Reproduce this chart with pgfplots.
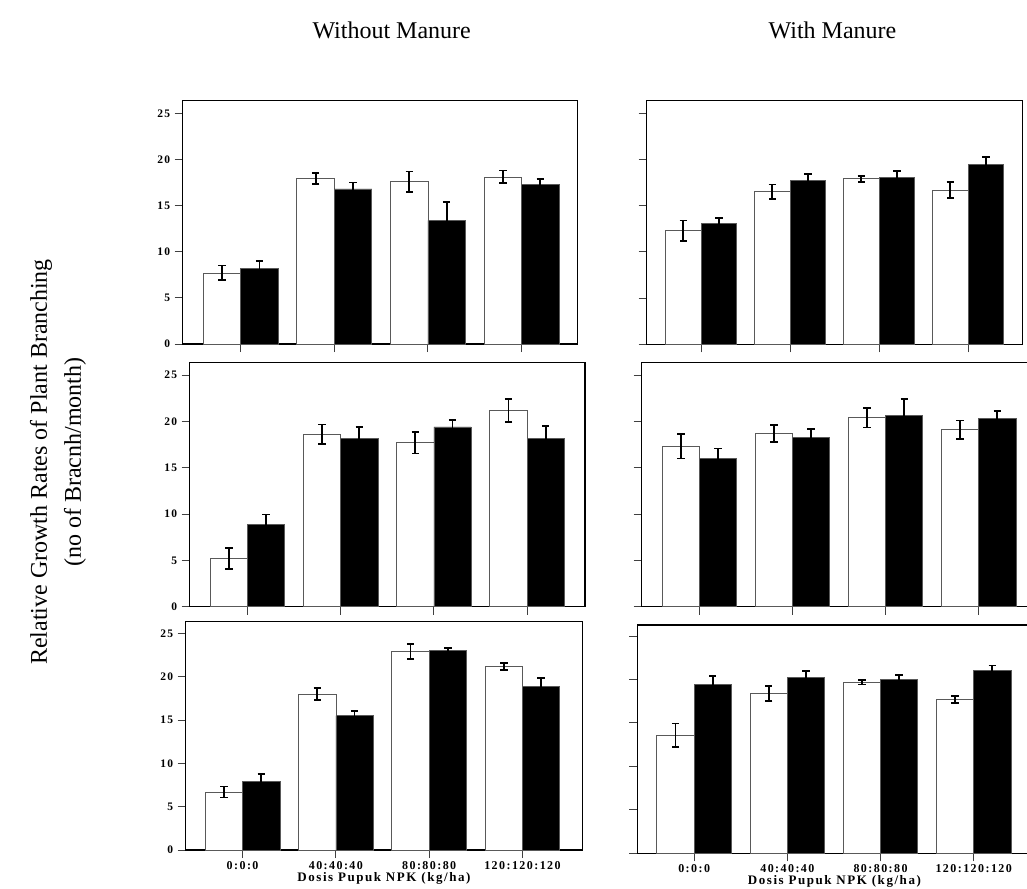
\documentclass[border=0pt]{standalone}
\usepackage{fontspec}
\setmainfont{Liberation Serif}
\newfontfamily\lsfont[LetterSpace=12]{Liberation Serif}
\usepackage{pgfplots}
\pgfplotsset{compat=1.18}
\pgfplotsset{
  panel/.style={
    scale only axis, anchor=north west,
    ybar=0pt, bar width=0.4, ymin=0,
    xtick={0,1,2,3}, ytick={0,5,10,15,20,25},
    tick align=outside, tick pos=left, major tick length=8pt,
    axis line style={black, line width=1.4pt},
    x axis line style={black!65, line width=1.1pt},
    tick style={black!75, line width=1pt},
    xticklabels={},
    /pgf/number format/assume math mode=true,
    tick label style={font=\fontsize{11.5}{13}\selectfont\lsfont\bfseries},
    yticklabel style={xshift=-1pt},
    clip=false,
  },
  wbar/.style={fill=white, draw=black!65, line width=0.8pt,
    error bars/.cd, y dir=both, y explicit,
    error bar style={black, line width=1.8pt},
    error mark options={rotate=90, mark size=3.7pt, line width=1.8pt, black}},
  bbar/.style={fill=black, draw=black!65, line width=0.8pt,
    error bars/.cd, y dir=both, y explicit,
    error bar style={black, line width=1.8pt},
    error mark options={rotate=90, mark size=3.7pt, line width=1.8pt, black}},
  bottomlab/.style={
    xticklabels={0:0:0,40:40:40,80:80:80,120:120:120},
    xlabel={Dosis Pupuk NPK (kg/ha)},
    xlabel style={font=\fontsize{13}{14}\selectfont\lsfont\bfseries, inner sep=0pt, yshift=1pt},
    xticklabel style={yshift=0pt, font=\fontsize{12}{13}\selectfont\lsfont\bfseries},
  },
}
\begin{document}
\begin{tikzpicture}
\path[use as bounding box] (0pt,0pt) rectangle (1027pt,-888pt);
\clip (0pt,0pt) rectangle (1027pt,-888pt);

\node[font=\fontsize{24}{28}\selectfont] at (391.7pt,-30pt) {Without Manure};
\node[font=\fontsize{24}{28}\selectfont] at (832.5pt,-30pt) {With Manure};
\node[font=\fontsize{24}{34}\selectfont, rotate=90, align=center] at (58pt,-462pt)
  {Relative Growth Rates of Plant Branching\\(no of Bracnh/month)};

% Top-left
\begin{axis}[panel, at={(182.7pt,-100.7pt)}, width=395pt, height=243.3pt,
  xmin=-0.62, xmax=3.6, ymax=26.36]
\addplot[wbar] coordinates {(0,7.7) +- (0,0.8) (1,17.9) +- (0,0.6) (2,17.6) +- (0,1.1) (3,18.1) +- (0,0.7)};
\addplot[bbar] coordinates {(0,8.2) +- (0,0.8) (1,16.8) +- (0,0.7) (2,13.4) +- (0,2.0) (3,17.3) +- (0,0.6)};
\end{axis}

% Top-right
\begin{axis}[panel, at={(646.7pt,-100.7pt)}, width=375.6pt, height=243.6pt,
  xmin=-0.61, xmax=3.61, ymax=26.36, yticklabels={}]
\addplot[wbar] coordinates {(0,12.3) +- (0,1.1) (1,16.5) +- (0,0.8) (2,17.9) +- (0,0.35) (3,16.7) +- (0,0.85)};
\addplot[bbar] coordinates {(0,13.1) +- (0,0.55) (1,17.7) +- (0,0.7) (2,18.1) +- (0,0.65) (3,19.5) +- (0,0.8)};
\end{axis}

% Middle-left
\begin{axis}[panel, at={(189.7pt,-362.3pt)}, width=395.2pt, height=244.4pt,
  xmin=-0.62, xmax=3.62, ymax=26.37]
\addplot[wbar] coordinates {(0,5.2) +- (0,1.1) (1,18.6) +- (0,1.06) (2,17.7) +- (0,1.17) (3,21.2) +- (0,1.24)};
\addplot[bbar] coordinates {(0,8.9) +- (0,1.04) (1,18.2) +- (0,1.2) (2,19.4) +- (0,0.72) (3,18.2) +- (0,1.3)};
\end{axis}

% Middle-right
\begin{axis}[panel, at={(641.7pt,-362.3pt)}, width=394.7pt, height=244.4pt,
  xmin=-0.62, xmax=3.62, ymax=26.37, yticklabels={}]
\addplot[wbar] coordinates {(0,17.3) +- (0,1.3) (1,18.7) +- (0,0.9) (2,20.4) +- (0,1.06) (3,19.1) +- (0,1.0)};
\addplot[bbar] coordinates {(0,16.0) +- (0,1.08) (1,18.3) +- (0,0.9) (2,20.6) +- (0,1.8) (3,20.3) +- (0,0.83)};
\end{axis}

% Bottom-left
\begin{axis}[panel, bottomlab, at={(185.7pt,-621.7pt)}, width=396.5pt, height=228.3pt,
  xmin=-0.61, xmax=3.64, ymax=26.35]
\addplot[wbar] coordinates {(0,6.7) +- (0,0.63) (1,18.0) +- (0,0.7) (2,22.9) +- (0,0.85) (3,21.2) +- (0,0.42)};
\addplot[bbar] coordinates {(0,7.9) +- (0,0.9) (1,15.5) +- (0,0.58) (2,23.0) +- (0,0.35) (3,18.9) +- (0,0.96)};
\end{axis}

% Bottom-right
\begin{axis}[panel, bottomlab, at={(637.3pt,-625pt)}, width=394.2pt, height=228.3pt,
  xmin=-0.61, xmax=3.62, ymax=26.27, yticklabels={}]
\addplot[wbar] coordinates {(0,13.6) +- (0,1.34) (1,18.4) +- (0,0.85) (2,19.7) +- (0,0.27) (3,17.7) +- (0,0.42)};
\addplot[bbar] coordinates {(0,19.4) +- (0,0.96) (1,20.2) +- (0,0.77) (2,20.0) +- (0,0.54) (3,21.0) +- (0,0.62)};
\end{axis}
\end{tikzpicture}
\end{document}
